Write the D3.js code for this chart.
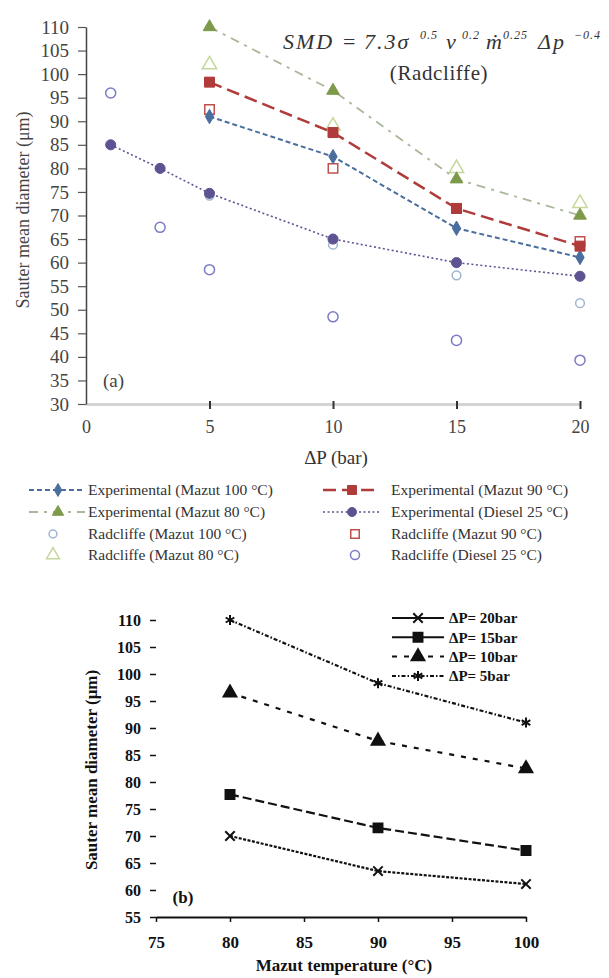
<!DOCTYPE html>
<html>
<head>
<meta charset="utf-8">
<script src="https://cdn.jsdelivr.net/npm/d3@7"></script>
<style>
  body { margin: 0; background: #fff; }
  svg { display: block; }
  text { font-family: "Liberation Serif", "Times New Roman", serif; }
</style>
</head>
<body>
<svg id="fig" width="609" height="978"></svg>
<script>
// ---------- data: panel (a), SMD against pressure drop ----------
const dpMazut = [5, 10, 15, 20];                 // ΔP (bar)
const dpDiesel = [1, 3, 5, 10, 15, 20];          // ΔP (bar)
const expMazut100 = [91, 82.5, 67.3, 61.1];      // SMD (μm)
const expMazut90 = [98.3, 87.6, 71.5, 63.5];
const expMazut80 = [110, 96.5, 77.7, 70];
const expDiesel25 = [85, 80, 74.7, 65, 60, 57.1];
const radMazut100 = [74.2, 63.8, 57.3, 51.4];
const radMazut90 = [92.5, 80, 71.5, 64.5];
const radMazut80 = [102, 89, 80, 72.6];
const radDiesel25 = [96, 67.5, 58.5, 48.5, 43.5, 39.3];

const xTicksA = [0, 5, 10, 15, 20];
const yTicksA = d3.range(30, 111, 5);

// ---------- data: panel (b), SMD against mazut temperature ----------
const mazutTemps = [80, 90, 100];                // °C
const smdDp5 = [110, 98.3, 91];
const smdDp10 = [96.5, 87.6, 82.5];
const smdDp15 = [77.7, 71.5, 67.3];
const smdDp20 = [70, 63.5, 61.1];
const xTicksB = [75, 80, 85, 90, 95, 100];
const yTicksB = d3.range(55, 111, 5);

const svg = d3.select("#fig");
const zip = (xs, ys) => xs.map((v, i) => [v, ys[i]]);
const SERIF = "Liberation Serif, serif";

// =================== panel (a) ===================
const xA = d3.scaleLinear().domain([0, 20]).range([86, 580]);
const yA = d3.scaleLinear().domain([30, 110]).range([404, 27]);
const gA = svg.append("g");

// x axis: light baseline, dark short ticks
const axA = gA.append("g").attr("transform", `translate(0,${yA(30)})`)
  .call(d3.axisBottom(xA).tickValues(xTicksA).tickSize(6).tickSizeOuter(0).tickPadding(10));
axA.select(".domain").attr("stroke", "#d4d4d4").attr("stroke-width", 3);
axA.selectAll(".tick line").attr("y1", -3).attr("y2", 5).attr("stroke", "#333").attr("stroke-width", 2)
  .filter(d => d === 0).remove();
axA.selectAll(".tick text").attr("font-size", 18).attr("fill", "#444").attr("font-family", SERIF);

// y axis
const ayA = gA.append("g").attr("transform", `translate(${xA(0)},0)`)
  .call(d3.axisLeft(yA).tickValues(yTicksA).tickSize(8).tickSizeOuter(0).tickPadding(9));
ayA.select(".domain").attr("stroke", "#444").attr("stroke-width", 1.5);
ayA.selectAll(".tick line").attr("stroke", "#555").attr("stroke-width", 1.2);
ayA.selectAll(".tick text").attr("font-size", 19).attr("fill", "#444").attr("font-family", SERIF);

gA.append("text").attr("transform", `translate(23,210) rotate(-90)`)
  .attr("text-anchor", "middle").attr("dy", "0.35em")
  .attr("font-size", 18).attr("fill", "#444").text("Sauter mean diameter (μm)");
gA.append("text").attr("x", 336).attr("y", 457).attr("dy", "0.35em")
  .attr("text-anchor", "middle").attr("font-size", 19).attr("fill", "#333").text("ΔP (bar)");
gA.append("text").attr("x", 103).attr("y", 380).attr("dy", "0.35em")
  .attr("font-size", 19).attr("fill", "#444").text("(a)");

// correlation label, each piece placed along the baseline
const eq = gA.append("text").attr("y", 49).attr("fill", "#333");
const eqParts = [
  { t: "SMD", x: 283, sup: false },
  { t: "=", x: 343, sup: false, up: true },
  { t: "7.3σ", x: 364, sup: false },
  { t: "0.5", x: 420, sup: true },
  { t: "ν", x: 446, sup: false },
  { t: "0.2", x: 462, sup: true },
  { t: "ṁ", x: 486, sup: false },
  { t: "0.25", x: 503, sup: true },
  { t: "Δp", x: 538, sup: false },
  { t: "−0.4", x: 574, sup: true }
];
eqParts.forEach(p => {
  eq.append("tspan").attr("x", p.x).attr("y", p.sup ? 39 : 49)
    .attr("font-family", SERIF)
    .attr("font-size", p.sup ? 12 : 22)
    .attr("font-style", p.up ? "normal" : "italic")
    .attr("letter-spacing", p.sup ? 1 : 2)
    .text(p.t);
});
gA.append("text").attr("x", 439).attr("y", 73).attr("dy", "0.35em")
  .attr("text-anchor", "middle").attr("font-size", 21).attr("letter-spacing", 0.6)
  .attr("fill", "#333").text("(Radcliffe)");

const lineA = d3.line().x(d => xA(d[0])).y(d => yA(d[1]));

// series styles (panel a)
const seriesA = [
  { name: "Experimental (Mazut 100 °C)", xs: dpMazut, ys: expMazut100, color: "#4a6e9e", dash: "5,3", w: 2, sym: d3.symbolDiamond, size: 60, fill: true },
  { name: "Experimental (Mazut 90 °C)", xs: dpMazut, ys: expMazut90, color: "#b03b3b", dash: "13,6", w: 2.5, sym: d3.symbolSquare, size: 100, fill: true },
  { name: "Experimental (Mazut 80 °C)", xs: dpMazut, ys: expMazut80, color: "#7d9a4a", lineColor: "#a9b79a", dash: "9,6,3,6", w: 1.8, sym: d3.symbolTriangle, size: 70, fill: true },
  { name: "Experimental (Diesel 25 °C)", xs: dpDiesel, ys: expDiesel25, color: "#5e5392", dash: "2,2.5", w: 1.6, sym: d3.symbolCircle, size: 80, fill: true },
  { name: "Radcliffe (Mazut 100 °C)", xs: dpMazut, ys: radMazut100, color: "#9fb4d0", sym: d3.symbolCircle, size: 60, fill: false },
  { name: "Radcliffe (Mazut 90 °C)", xs: dpMazut, ys: radMazut90, color: "#c0504d", sym: d3.symbolSquare, size: 90, fill: false },
  { name: "Radcliffe (Mazut 80 °C)", xs: dpMazut, ys: radMazut80, color: "#c4d89b", sym: d3.symbolTriangle, size: 90, fill: false },
  { name: "Radcliffe (Diesel 25 °C)", xs: dpDiesel, ys: radDiesel25, color: "#7c7cc6", sym: d3.symbolCircle, size: 80, fill: false }
];

// hollow correlation markers first, then experimental lines + markers on top
const drawOrder = [4, 5, 6, 7, 3, 0, 1, 2];
drawOrder.forEach(i => {
  const s = seriesA[i];
  const pts = zip(s.xs, s.ys);
  if (s.dash) {
    gA.append("path").datum(pts).attr("d", lineA).attr("fill", "none")
      .attr("stroke", s.lineColor || s.color).attr("stroke-width", s.w).attr("stroke-dasharray", s.dash);
  }
  gA.selectAll(null).data(pts).join("path")
    .attr("transform", d => `translate(${xA(d[0])},${yA(d[1])})`)
    .attr("d", d3.symbol().type(s.sym).size(s.size))
    .attr("fill", s.fill ? s.color : "none")
    .attr("stroke", s.color).attr("stroke-width", s.fill ? 1 : 1.5);
});

// legend (a)
const legA = svg.append("g");
const legPos = [[0, 0], [1, 0], [0, 1], [1, 1], [0, 2], [1, 2], [0, 3], [1, 3]];
const colX = [29, 323], rowY = [490, 512, 534, 555];
seriesA.forEach((s, i) => {
  const [c, r] = legPos[i];
  const g = legA.append("g").attr("transform", `translate(${colX[c]},${rowY[r]})`);
  if (s.dash) {
    g.append("line").attr("x1", 0).attr("x2", 56).attr("stroke", s.lineColor || s.color)
      .attr("stroke-width", s.w).attr("stroke-dasharray", s.dash);
  }
  g.append("path").attr("transform", `translate(${s.dash ? 29 : (c === 0 ? 24 : 32)},0)`)
    .attr("d", d3.symbol().type(s.sym).size(s.size * 0.8))
    .attr("fill", s.fill ? s.color : "none").attr("stroke", s.color).attr("stroke-width", s.fill ? 1 : 1.5);
  g.append("text").attr("x", c === 0 ? 59 : 68).attr("dy", "0.35em")
    .attr("font-size", 15.5).attr("fill", "#333").text(s.name);
});

// =================== panel (b) ===================
const xB = d3.scaleLinear().domain([75, 100]).range([156, 526]);
const yB = d3.scaleLinear().domain([55, 110]).range([917, 620]);
const gB = svg.append("g");

const axB = gB.append("g").attr("transform", `translate(0,${yB(55)})`)
  .call(d3.axisBottom(xB).tickValues(xTicksB).tickSize(5).tickSizeOuter(0).tickPadding(14));
axB.select(".domain").attr("stroke", "#111").attr("stroke-width", 2.2);
axB.selectAll(".tick line").attr("stroke", "#111").attr("stroke-width", 1.5);
axB.selectAll(".tick text").attr("font-size", 17).attr("font-weight", "bold").attr("fill", "#111")
  .attr("font-family", SERIF);

const ayB = gB.append("g").attr("transform", `translate(${xB(75)},0)`)
  .call(d3.axisLeft(yB).tickValues(yTicksB).tickSize(6).tickSizeOuter(0).tickPadding(9));
ayB.select(".domain").attr("stroke", "none");
ayB.selectAll(".tick line").attr("stroke", "#111").attr("stroke-width", 1.5);
ayB.selectAll(".tick text").attr("font-size", 16).attr("font-weight", "bold").attr("fill", "#111")
  .attr("font-family", SERIF);

gB.append("text").attr("transform", `translate(91,770) rotate(-90)`)
  .attr("text-anchor", "middle").attr("dy", "0.35em").attr("font-weight", "bold")
  .attr("font-size", 17).attr("fill", "#111").text("Sauter mean diameter (μm)");
gB.append("text").attr("x", 344).attr("y", 965).attr("dy", "0.35em").attr("font-weight", "bold")
  .attr("text-anchor", "middle").attr("font-size", 17).attr("fill", "#111").text("Mazut temperature (°C)");
gB.append("text").attr("x", 183).attr("y", 897).attr("dy", "0.35em").attr("font-weight", "bold")
  .attr("text-anchor", "middle").attr("font-size", 17).attr("fill", "#111").text("(b)");

const lineB = d3.line().x(d => xB(d[0])).y(d => yB(d[1]));
const seriesB = [
  { name: "ΔP= 20bar", ys: smdDp20, dash: "3,1.5", sym: d3.symbolX, size: 60, fill: false },
  { name: "ΔP= 15bar", ys: smdDp15, dash: "9,4", sym: d3.symbolSquare, size: 80, fill: true },
  { name: "ΔP= 10bar", ys: smdDp10, dash: "5,7", sym: d3.symbolTriangle, size: 70, fill: true },
  { name: "ΔP= 5bar", ys: smdDp5, dash: "4,2,1.5,2", sym: d3.symbolAsterisk, size: 70, fill: false }
];
seriesB.forEach(s => {
  const pts = zip(mazutTemps, s.ys);
  gB.append("path").datum(pts).attr("d", lineB).attr("fill", "none")
    .attr("stroke", "#111").attr("stroke-width", 2.2).attr("stroke-dasharray", s.dash);
  gB.selectAll(null).data(pts).join("path")
    .attr("transform", d => `translate(${xB(d[0])},${yB(d[1])})`)
    .attr("d", d3.symbol().type(s.sym).size(s.size))
    .attr("fill", s.fill ? "#111" : "none").attr("stroke", "#111").attr("stroke-width", 2);
});

// legend (b)
const legB = svg.append("g");
seriesB.forEach((s, i) => {
  const g = legB.append("g").attr("transform", `translate(392,${618 + i * 19.3})`);
  g.append("line").attr("x1", 0).attr("x2", 52).attr("stroke", "#111")
    .attr("stroke-width", 2).attr("stroke-dasharray", i === 1 || i === 0 ? null : s.dash);
  g.append("path").attr("transform", "translate(26,0)")
    .attr("d", d3.symbol().type(s.sym).size(s.size))
    .attr("fill", s.fill ? "#111" : "none").attr("stroke", "#111").attr("stroke-width", 2);
  g.append("text").attr("x", 57).attr("dy", "0.35em").attr("font-weight", "bold")
    .attr("font-size", 15).attr("fill", "#111").text(s.name);
});
</script>
</body>
</html>
